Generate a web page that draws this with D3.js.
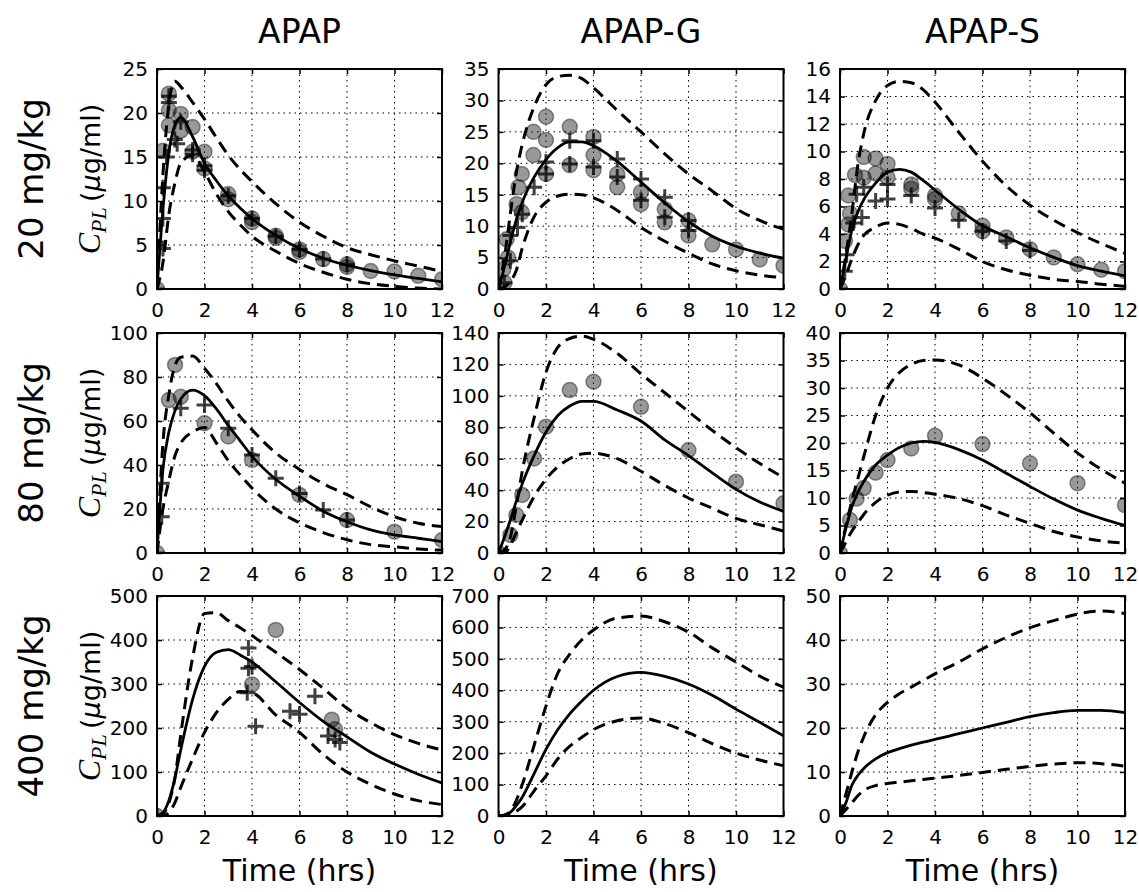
<!DOCTYPE html>
<html>
<head>
<meta charset="utf-8">
<script src="https://cdn.jsdelivr.net/npm/d3@7"></script>
<style>
  body { margin: 0; background: #fff; }
</style>
</head>
<body>
<div id="chart"></div>
<script>
// ---- data ----
const columns = ["APAP", "APAP-G", "APAP-S"];
const doses = ["20 mg/kg", "80 mg/kg", "400 mg/kg"];
const xTicks = [0, 2, 4, 6, 8, 10, 12];
const yMaxes = [[25, 35, 16], [100, 140, 40], [500, 700, 50]];
const ySteps = [[5, 5, 2], [20, 20, 5], [100, 100, 10]];

// model time grid shared by every curve
const curveTime = [0, 0.25, 0.5, 0.75, 1, 1.5, 2, 2.5, 3, 3.5, 4, 5, 6, 7, 8, 9, 10, 11, 12];

// 20 mg/kg
const apap20Mean  = [0, 9, 15.5, 18.6, 19.5, 17.3, 14.3, 12.3, 10.6, 9.2, 8, 6.1, 4.6, 3.5, 2.7, 2.1, 1.6, 1.2, 0.8];
const apap20Upper = [0, 13, 21, 23.6, 23, 21.2, 19.3, 17.2, 15.2, 13.6, 12.2, 9.7, 7.6, 6.0, 4.7, 3.9, 3.2, 2.6, 2.0];
const apap20Lower = [0, 3, 8.5, 12, 14.3, 15.2, 13.3, 10.8, 8.8, 7.3, 6.0, 4.3, 2.9, 1.9, 1.1, 0.6, 0.3, 0.1, 0];
const apapG20Mean  = [0, 3.5, 7.5, 11, 13.8, 17.8, 20.6, 22.5, 23.4, 23.4, 22.8, 20.3, 17, 13.7, 10.7, 8.4, 6.8, 5.7, 4.9];
const apapG20Upper = [0, 5, 12, 18.5, 23, 29, 32.5, 33.8, 34, 33.5, 32, 28.4, 25, 21.5, 18.3, 15.6, 12.8, 10.9, 9.5];
const apapG20Lower = [0, 0.3, 1.2, 3, 6.5, 11.5, 13.8, 14.8, 15.1, 15, 14.5, 12.5, 9.8, 7.6, 5.7, 4, 2.9, 2.2, 1.8];
const apapS20Mean  = [0, 2.2, 4.3, 5.6, 6.5, 7.7, 8.5, 8.7, 8.5, 7.9, 7.2, 5.8, 4.6, 3.8, 3.0, 2.3, 1.7, 1.3, 0.95];
const apapS20Upper = [0, 2.5, 5.5, 9, 11.3, 13.7, 14.8, 15.1, 15, 14.5, 13.6, 11.4, 9.3, 7.5, 6.1, 5, 4.1, 3.3, 2.6];
const apapS20Lower = [0, 1, 2.2, 3.2, 3.9, 4.5, 4.8, 4.7, 4.4, 4.0, 3.7, 2.9, 2.0, 1.4, 1.0, 0.7, 0.55, 0.35, 0.2];

// 80 mg/kg
const apap80Mean  = [0, 38, 55, 64.5, 70, 74, 71.5, 65.5, 58, 51, 44, 33.5, 25.8, 19, 14.2, 10.5, 8.2, 6.7, 5.2];
const apap80Upper = [0, 50, 72, 85, 89, 89.5, 84, 77, 69, 62, 56, 45.5, 38, 31.5, 26.5, 21, 16.5, 13.5, 12];
const apap80Lower = [0, 20, 33, 44, 50, 55, 57, 50, 42, 35.5, 29.5, 20, 13.7, 9.3, 6, 3.8, 2.8, 1.8, 1.3];
const apapG80Mean  = [0, 10, 21, 33, 44, 62, 77, 87.5, 93.5, 96.5, 96.5, 91, 84, 72, 62, 51, 40.5, 32.5, 26.5];
const apapG80Upper = [0, 2, 10, 30, 52, 86, 115, 131, 136.5, 138, 136, 127, 114, 102, 90, 78, 67, 57, 48];
const apapG80Lower = [0, 0, 5, 13, 21, 36, 47, 55, 60, 63, 63.5, 60, 52, 43, 35, 28.5, 22, 18, 14];
const apapS80Mean  = [0, 4.5, 8.4, 11, 13, 16, 17.8, 19.2, 20, 20.3, 20.1, 18.8, 16.9, 14.5, 12.1, 9.8, 7.8, 6.3, 5.0];
const apapS80Upper = [0, 5, 9.5, 13.5, 17.5, 25, 30, 32.8, 34.3, 35, 35.1, 34.2, 31.8, 28.8, 25.5, 21.8, 18.2, 15.2, 12.7];
const apapS80Lower = [0, 2, 4, 5.5, 7, 9.2, 10.5, 11.1, 11.2, 11, 10.7, 9.9, 8.6, 6.9, 5.4, 3.9, 2.9, 2.2, 1.8];

// 400 mg/kg
const apap400Mean  = [0, 8, 35, 85, 150, 265, 340, 372, 378, 366, 350, 305, 258, 215, 180, 145, 118, 95, 75];
const apap400Upper = [0, 5, 30, 85, 185, 360, 460, 462, 444, 428, 410, 372, 333, 290, 245, 212, 185, 165, 150];
const apap400Lower = [0, 1, 8, 30, 65, 130, 190, 235, 265, 283, 280, 230, 190, 140, 100, 72, 50, 35, 26];
const apapG400Mean  = [0, 3, 12, 33, 60, 135, 212, 275, 325, 365, 400, 444, 457, 444, 420, 384, 340, 298, 255];
const apapG400Upper = [0, 3, 15, 50, 100, 225, 350, 455, 515, 560, 592, 630, 636, 618, 585, 535, 490, 445, 410];
const apapG400Lower = [0, 0, 5, 15, 30, 80, 128, 182, 222, 250, 275, 303, 312, 294, 265, 230, 200, 178, 160];
const apapS400Mean  = [0, 3, 7, 9.2, 10.8, 13, 14.4, 15.3, 16.1, 16.8, 17.4, 18.7, 20, 21.3, 22.6, 23.5, 24, 24, 23.5];
const apapS400Upper = [0, 5, 10, 14.5, 18, 23, 25.8, 27.8, 29.3, 30.8, 32.3, 35, 38, 40.6, 42.8, 44.4, 45.9, 46.6, 46];
const apapS400Lower = [0, 1.5, 3, 4.6, 5.8, 6.9, 7.4, 7.7, 8, 8.3, 8.6, 9.2, 9.9, 10.6, 11.3, 11.8, 12.1, 11.9, 11.3];

// observed data: [time (hrs), concentration]
const apap20Circles = [[0,0],[0.25,15.7],[0.5,22.2],[0.5,20.3],[0.5,18.6],[1,19.9],[1,18],[1.5,18.4],[1.5,15.6],[2,15.6],[2,13.7],[3,10.8],[3,10.2],[4,8],[4,7.6],[5,6.05],[5,5.8],[6,4.5],[6,4.2],[7,3.4],[8,2.8],[8,2.5],[9,2.05],[10,2.0],[11,1.5],[12,1.1]];
const apap20Plus = [[0,0],[0.25,4.6],[0.25,8],[0.25,11.5],[0.5,21.9],[0.5,21.2],[0.4,15],[0.75,17],[0.85,16.5],[1,19],[1.5,15.8],[1.5,15.3],[2,14],[2,13.5],[3,10.6],[4,8],[5,6],[6,4.5],[7,3.4],[8,2.8]];
const apapG20Circles = [[0,0],[0.2,3.1],[0.25,1],[0.34,7.9],[0.4,5],[0.76,13.5],[0.84,16.2],[0.98,18.3],[0.98,12.2],[1.47,25],[1.47,21.3],[2,27.4],[2,23.7],[2,18.3],[3,25.8],[3,19.7],[4,24.2],[4,21.3],[4,18.9],[5,18.3],[5,16.2],[6,15.4],[6,13.5],[7,12.7],[7,10.6],[8,10.9],[8,8.5],[9,7.1],[10,6.3],[11,4.7],[12,3.7]];
const apapG20Plus = [[0,0],[0.25,1],[0.5,4.5],[0.5,8.5],[0.8,9.8],[1,11.9],[1.5,16.2],[2,20.2],[2,18.3],[3,23.6],[3,19.9],[4,23.6],[4,19.4],[5,20.7],[5,17.8],[6,17.5],[6,14.1],[7,14.6],[7,11.4],[8,10.9],[8,9.3]];
const apapS20Circles = [[0,0],[0.21,3.5],[0.35,4.7],[0.42,5.5],[0.35,6.8],[0.63,8.3],[1,9.6],[1,8.1],[1.5,9.5],[1.5,8.4],[2,9.1],[2,8.1],[3,7.6],[3,7.3],[4,6.8],[4,6.55],[5,5.5],[6,4.6],[6,4.2],[7,3.75],[8,2.9],[9,2.3],[10,1.8],[11,1.4],[12,1.3]];
const apapS20Plus = [[0,0],[0.2,1.3],[0.28,2.5],[0.56,4.8],[0.92,5.2],[0.7,6.9],[1,7.4],[1.5,6.4],[2,6.55],[2,7.6],[3,6.8],[4,5.9],[5,5.0],[6,4.2],[7,3.5],[8,2.8]];
const apap80Circles = [[0,0],[0.5,69.5],[0.76,85.5],[1,71],[2,59],[3,53],[4,42.3],[6,26.4],[8,15],[10,9.7],[12,5.9]];
const apap80Plus = [[0,0],[0.2,16.5],[0.2,31.7],[1,65.8],[2,67.3],[3,56.7],[4,44.5],[5,34],[6,27],[7,19.5],[8,15]];
const apapG80Circles = [[0,0],[0.5,11.5],[0.75,24.2],[1,36.9],[1.5,60.2],[2,80.4],[3,103.7],[4,109],[6,93],[8,65.5],[10,45.4],[12,31.6]];
const apapS80Circles = [[0,0],[0.42,6],[0.7,9.9],[1,11.8],[1.5,14.6],[2,16.9],[3,19],[4,21.3],[6,19.8],[8,16.3],[10,12.7],[12,8.7]];
const apap400Circles = [[0,0],[4,299],[5,423],[7.36,219],[7.5,197]];
const apap400Plus = [[0,0],[3.85,382],[3.85,336],[4,340],[3.8,280],[4.15,204],[5.6,238],[6,231],[6.65,272],[7.2,182],[7.5,174],[7.7,167]];

const panels = [
  [
    {mean: apap20Mean, upper: apap20Upper, lower: apap20Lower, circles: apap20Circles, plus: apap20Plus},
    {mean: apapG20Mean, upper: apapG20Upper, lower: apapG20Lower, circles: apapG20Circles, plus: apapG20Plus},
    {mean: apapS20Mean, upper: apapS20Upper, lower: apapS20Lower, circles: apapS20Circles, plus: apapS20Plus}
  ],
  [
    {mean: apap80Mean, upper: apap80Upper, lower: apap80Lower, circles: apap80Circles, plus: apap80Plus},
    {mean: apapG80Mean, upper: apapG80Upper, lower: apapG80Lower, circles: apapG80Circles, plus: []},
    {mean: apapS80Mean, upper: apapS80Upper, lower: apapS80Lower, circles: apapS80Circles, plus: []}
  ],
  [
    {mean: apap400Mean, upper: apap400Upper, lower: apap400Lower, circles: apap400Circles, plus: apap400Plus},
    {mean: apapG400Mean, upper: apapG400Upper, lower: apapG400Lower, circles: [], plus: []},
    {mean: apapS400Mean, upper: apapS400Upper, lower: apapS400Lower, circles: [], plus: []}
  ]
];

// ---- layout ----
const width = 1139, height = 892;
const colLeft = [157, 498.5, 840];
const rowTop = [69, 333, 596];
const panelW = 285, panelH = 220;
const font = "DejaVu Sans";

const svg = d3.select('#chart').append('svg')
  .attr('width', width)
  .attr('height', height)
  .style('font-family', font);

const line = (x, y) => d3.line()
  .x(d => x(d[0]))
  .y(d => y(d[1]))
  .curve(d3.curveMonotoneX);

function drawPanel(row, col) {
  const p = panels[row][col];
  const yMax = yMaxes[row][col];
  const x = d3.scaleLinear().domain([0, 12]).range([0, panelW]);
  const y = d3.scaleLinear().domain([0, yMax]).range([panelH, 0]);
  const yTicks = d3.range(0, yMax + ySteps[row][col] / 2, ySteps[row][col]);

  const g = svg.append('g')
    .attr('transform', `translate(${colLeft[col]},${rowTop[row]})`);

  const clipId = `clip-${row}-${col}`;
  g.append('clipPath').attr('id', clipId)
    .append('rect').attr('width', panelW).attr('height', panelH);

  // dotted grid
  const grid = g.append('g')
    .attr('stroke', '#000')
    .attr('stroke-width', 1)
    .attr('stroke-dasharray', '1.5,4');
  grid.selectAll('.gx').data(xTicks.slice(1, -1)).enter().append('line')
    .attr('x1', d => x(d)).attr('x2', d => x(d))
    .attr('y1', 0).attr('y2', panelH);
  grid.selectAll('.gy').data(yTicks.slice(1, -1)).enter().append('line')
    .attr('y1', d => y(d)).attr('y2', d => y(d))
    .attr('x1', 0).attr('x2', panelW);

  const plot = g.append('g').attr('clip-path', `url(#${clipId})`);
  const gen = line(x, y);
  const series = [
    {vals: p.upper, dash: '12,7'},
    {vals: p.lower, dash: '12,7'},
    {vals: p.mean, dash: null}
  ];
  series.forEach(s => {
    plot.append('path')
      .datum(curveTime.map((t, i) => [t, s.vals[i]]))
      .attr('d', gen)
      .attr('fill', 'none')
      .attr('stroke', '#000')
      .attr('stroke-width', s.dash ? 3 : 2.8)
      .attr('stroke-dasharray', s.dash);
  });

  plot.selectAll('circle').data(p.circles).enter().append('circle')
    .attr('cx', d => x(d[0]))
    .attr('cy', d => y(d[1]))
    .attr('r', 7.5)
    .attr('fill', '#000')
    .attr('fill-opacity', 0.4)
    .attr('stroke', '#000')
    .attr('stroke-opacity', 0.4)
    .attr('stroke-width', 1.5);

  plot.selectAll('.plus').data(p.plus).enter().append('path')
    .attr('class', 'plus')
    .attr('transform', d => `translate(${x(d[0])},${y(d[1])})`)
    .attr('d', 'M-8,0H8M0,-8V8')
    .attr('stroke', '#000')
    .attr('stroke-opacity', 0.75)
    .attr('stroke-width', 3);

  // axes with inward ticks
  const bottom = g.append('g').attr('transform', `translate(0,${panelH})`)
    .call(d3.axisBottom(x).tickValues(xTicks).tickSizeInner(-5).tickSizeOuter(0).tickPadding(14));
  const left = g.append('g')
    .call(d3.axisLeft(y).tickValues(yTicks).tickSizeInner(-5).tickSizeOuter(0).tickPadding(9));
  const top = g.append('g')
    .call(d3.axisTop(x).tickValues(xTicks).tickSizeInner(-5).tickSizeOuter(0).tickFormat(''));
  const right = g.append('g').attr('transform', `translate(${panelW},0)`)
    .call(d3.axisRight(y).tickValues(yTicks).tickSizeInner(-5).tickSizeOuter(0).tickFormat(''));
  [bottom, left, top, right].forEach(a => {
    a.select('.domain').remove();
    a.selectAll('line').attr('stroke-width', 1.5);
    a.selectAll('text').attr('font-size', 20).attr('font-family', font).attr('fill', '#000');
  });

  g.append('rect')
    .attr('width', panelW).attr('height', panelH)
    .attr('fill', 'none').attr('stroke', '#000').attr('stroke-width', 2);
}

for (let r = 0; r < 3; r++) {
  for (let c = 0; c < 3; c++) drawPanel(r, c);
}

// column titles
svg.selectAll('.title').data(columns).enter().append('text')
  .attr('x', (d, i) => colLeft[i] + panelW / 2)
  .attr('y', 43)
  .attr('text-anchor', 'middle')
  .attr('font-size', 33)
  .text(d => d);

// dose labels and y labels
doses.forEach((d, i) => {
  const cy = rowTop[i] + panelH / 2;
  svg.append('text')
    .attr('transform', `translate(43,${cy}) rotate(-90)`)
    .attr('text-anchor', 'middle')
    .attr('font-size', 34)
    .text(d);

  const lab = svg.append('text')
    .attr('transform', `translate(100,${cy}) rotate(-90)`)
    .attr('text-anchor', 'middle')
    .attr('font-size', 27);
  lab.append('tspan').attr('font-family', 'Liberation Serif').attr('font-style', 'italic')
    .attr('font-size', 32).text('C');
  lab.append('tspan').attr('font-family', 'Liberation Serif').attr('font-style', 'italic')
    .attr('font-size', 22).attr('dy', 6).text('PL');
  lab.append('tspan').attr('dy', -6).text('\u2009(');
  lab.append('tspan').attr('font-style', 'italic').text('\u03bc');
  lab.append('tspan').text('g/ml)');
});

// x axis titles
columns.forEach((c, i) => {
  svg.append('text')
    .attr('x', colLeft[i] + panelW / 2)
    .attr('y', 881)
    .attr('text-anchor', 'middle')
    .attr('font-size', 30)
    .text('Time (hrs)');
});
</script>
</body>
</html>
